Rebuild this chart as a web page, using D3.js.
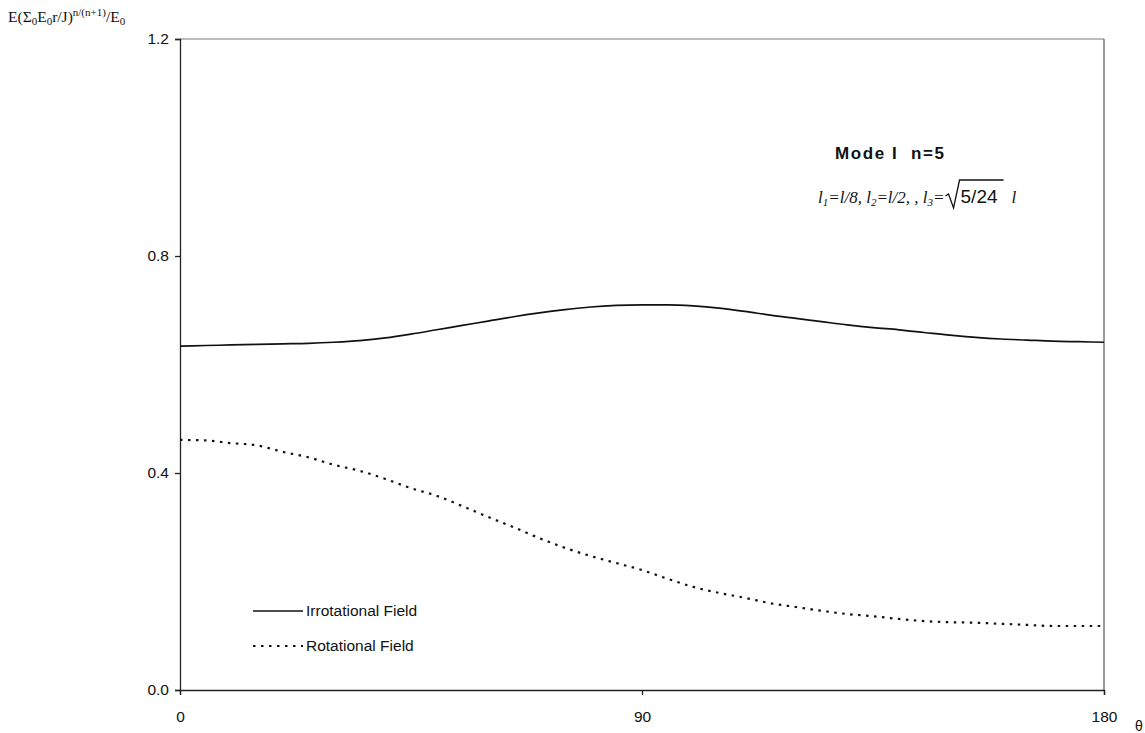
<!DOCTYPE html>
<html><head><meta charset="utf-8">
<script src="https://cdn.jsdelivr.net/npm/d3@7"></script>
<style>body{margin:0;background:#fff}svg{display:block}text{white-space:pre}</style>
</head><body>
<script>
const angles = [0,5,10,15,20,25,30,35,40,45,50,55,60,65,70,75,80,85,90,95,100,105,110,115,120,125,130,135,140,145,150,155,160,165,170,175,180];
const irrotational = [0.634,0.635,0.636,0.637,0.638,0.639,0.641,0.644,0.649,0.656,0.664,0.672,0.680,0.688,0.695,0.701,0.706,0.709,0.710,0.710,0.708,0.704,0.698,0.691,0.685,0.679,0.673,0.668,0.664,0.659,0.654,0.650,0.647,0.645,0.643,0.642,0.641];
const rotational = [0.461,0.460,0.455,0.451,0.439,0.429,0.415,0.404,0.389,0.372,0.358,0.339,0.319,0.300,0.280,0.262,0.247,0.234,0.221,0.205,0.190,0.179,0.170,0.160,0.153,0.146,0.140,0.136,0.131,0.127,0.125,0.124,0.122,0.120,0.118,0.118,0.118];
const xTicks = [0,90,180];
const yTicks = [0.0,0.4,0.8,1.2];
const seriesNames = ["Irrotational Field","Rotational Field"];

const W=1145,H=733;
const svg=d3.select("body").append("svg").attr("width",W).attr("height",H);
const x=d3.scaleLinear().domain([0,180]).range([180,1104]);
const y=d3.scaleLinear().domain([0,1.2]).range([690,39]);
const sans="Liberation Sans, Arial, sans-serif", serif="Liberation Serif, Times New Roman, serif";

// frame
svg.append("line").attr("x1",180).attr("x2",1104).attr("y1",39).attr("y2",39).attr("stroke","#777").attr("stroke-width",1);
svg.append("line").attr("x1",1104).attr("x2",1104).attr("y1",39).attr("y2",690).attr("stroke","#555").attr("stroke-width",1.2);

const yAxis=svg.append("g").attr("transform","translate(180,0)")
  .call(d3.axisLeft(y).tickValues(yTicks).tickFormat(d3.format(".1f")).tickSize(5).tickPadding(6));
const xAxis=svg.append("g").attr("transform","translate(0,690)")
  .call(d3.axisBottom(x).tickValues(xTicks).tickFormat(d3.format("d")).tickSize(5).tickPadding(16));
[yAxis,xAxis].forEach(g=>{
  g.selectAll("path,line").attr("stroke","#222").attr("stroke-width",1.3);
  g.selectAll("text").attr("font-family",sans).attr("font-size",15.5).attr("fill","#111");
});

const line=(vals)=>d3.line().x((d,i)=>x(angles[i])).y(d=>y(d)).curve(d3.curveMonotoneX)(vals);
svg.append("path").attr("d",line(irrotational)).attr("fill","none").attr("stroke","#111").attr("stroke-width",1.7);
svg.append("path").attr("d",line(rotational)).attr("fill","none").attr("stroke","#111").attr("stroke-width",2.2).attr("stroke-dasharray","2.5,5.5");

// legend
const lg=[{y:611,dash:null},{y:646,dash:"2.5,5.5"}];
lg.forEach((l,i)=>{
  svg.append("line").attr("x1",253).attr("x2",303).attr("y1",l.y).attr("y2",l.y).attr("stroke","#111")
    .attr("stroke-width",i?2.2:1.7).attr("stroke-dasharray",l.dash);
  svg.append("text").attr("x",306).attr("y",l.y+5).attr("font-family",sans).attr("font-size",15.5).attr("fill","#111").text(seriesNames[i]);
});

// title
svg.append("text").attr("x",835).attr("y",159).attr("font-family",sans).attr("font-weight","bold").attr("font-size",17)
  .attr("letter-spacing",1.6).attr("fill","#111").text("Mode I  n=5");

// subtitle
const st=svg.append("text").attr("x",818).attr("y",203).attr("font-family",serif).attr("font-style","italic").attr("font-size",17).attr("fill","#111");
st.append("tspan").text("l");
st.append("tspan").attr("font-size",11).attr("dy",3).text("1");
st.append("tspan").attr("dy",-3).text("=l/8, l");
st.append("tspan").attr("font-size",11).attr("dy",3).text("2");
st.append("tspan").attr("dy",-3).text("=l/2, , l");
st.append("tspan").attr("font-size",11).attr("dy",3).text("3");
st.append("tspan").attr("dy",-3).text("=");
const bb=st.node().getBBox();
const sx=bb.x+bb.width+1;
svg.append("path").attr("d",`M${sx},${196} L${sx+3},${194} L${sx+8},${208} L${sx+14},${180} L${sx+58},${180}`)
  .attr("fill","none").attr("stroke","#111").attr("stroke-width",1.3);
svg.append("text").attr("x",sx+15).attr("y",203).attr("font-family",sans).attr("font-size",19).attr("fill","#111").text("5/24");
svg.append("text").attr("x",sx+66).attr("y",203).attr("font-family",serif).attr("font-style","italic").attr("font-size",17).attr("fill","#111").text("l");

// y label
const yl=svg.append("text").attr("x",8).attr("y",22).attr("font-family",serif).attr("font-size",15.5).attr("fill","#111");
yl.append("tspan").text("E(Σ");
yl.append("tspan").attr("font-size",11).attr("dy",3).text("0");
yl.append("tspan").attr("dy",-3).text("E");
yl.append("tspan").attr("font-size",11).attr("dy",3).text("0");
yl.append("tspan").attr("dy",-3).text("r/J)");
yl.append("tspan").attr("font-size",11).attr("dy",-6).text("n/(n+1)");
yl.append("tspan").attr("dy",6).text("/E");
yl.append("tspan").attr("font-size",11).attr("dy",3).text("0");

// theta
svg.append("text").attr("x",1135).attr("y",731).attr("font-family",sans).attr("font-size",14).attr("fill","#111").text("θ");
</script>
</body></html>
